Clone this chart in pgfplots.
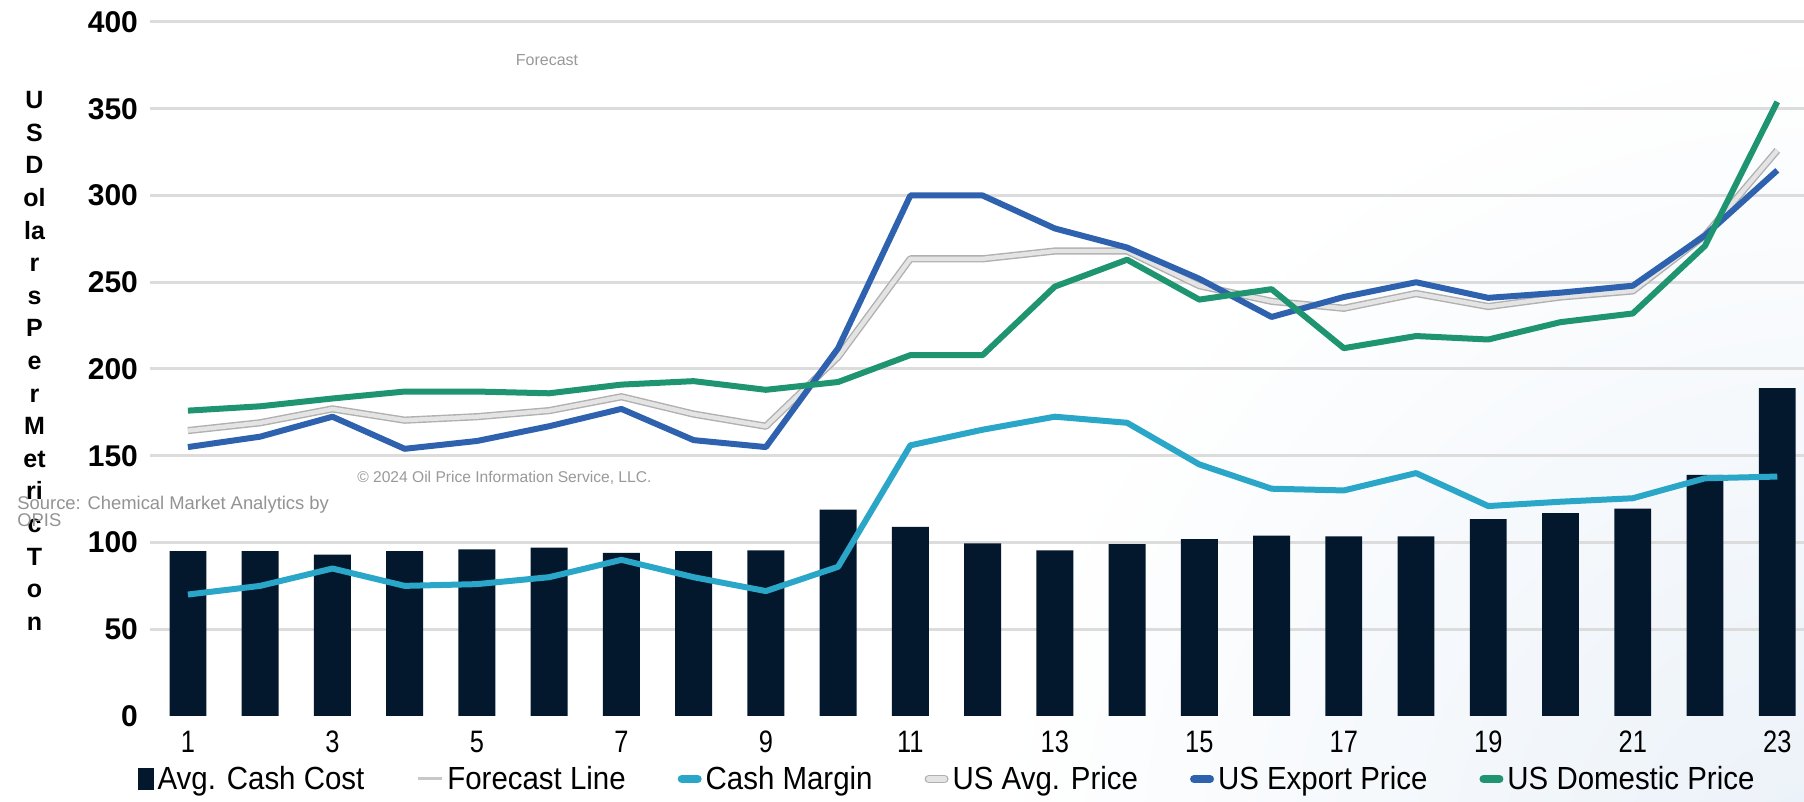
\documentclass[border=0pt]{standalone}
\usepackage{pgfplots}
\pgfplotsset{compat=1.18}
\usepackage{fontspec}
\setmainfont{Liberation Sans}
\setsansfont{Liberation Sans}
\newfontfamily\legfont[FakeStretch=0.92]{Liberation Sans}
\newfontfamily\tickfont[FakeStretch=0.82]{Liberation Sans}
\definecolor{cost}{HTML}{04182D}
\definecolor{margin}{HTML}{2AA6C8}
\definecolor{export}{HTML}{2F62AE}
\definecolor{domestic}{HTML}{1F9470}
\definecolor{avgp}{HTML}{B0B0B0}
\definecolor{avgin}{HTML}{E4E4E4}
\definecolor{gridc}{HTML}{DCDCDC}
\definecolor{bgblue}{HTML}{EAF1F8}
\begin{document}
\begin{tikzpicture}
\useasboundingbox (-75pt,-43pt) rectangle (827pt,358pt);
\begin{scope}
\clip (-75pt,-43pt) rectangle (827pt,358pt);
\fill[white] (-75pt,-43pt) rectangle (827pt,358pt);
\shade[inner color=bgblue, outer color=white] (840pt,-80pt) circle (420pt);
\end{scope}
\begin{axis}[
 at={(0,0)}, anchor=south west,
 scale only axis, width=827pt, height=347pt,
 xmin=0.475, xmax=23.37, ymin=0, ymax=400,
 ytick={50,100,...,400}, xtick={1,3,...,23},
 extra y ticks={0}, extra y tick style={grid=none},
 ymajorgrids, grid style={gridc, line width=1.5pt},
 axis line style={draw=none}, major tick length=0pt,
 yticklabel style={font=\fontsize{15}{15}\selectfont\bfseries, xshift=-2.5pt},
 xticklabel style={font=\fontsize{15.5}{15.5}\tickfont, yshift=-4pt},
 /pgf/number format/assume math mode=true,
 clip=false,
 legend columns=6,
 legend style={at={(rel axis cs:0.4825,0)}, anchor=center, yshift=-31.5pt, draw=none, fill=none,
   font=\fontsize{16}{16}\legfont, /tikz/every even column/.append style={column sep=24pt}},
 legend cell align=left,
]
\addplot[ybar, bar width=0.51, fill=cost, draw=none,
  legend image code/.code={\fill[cost] (2pt,-5.5pt) rectangle (10pt,5.5pt);}]
 coordinates {(1,95)(2,95)(3,93)(4,95)(5,96)(6,97)(7,94)(8,95)(9,95.5)(10,119)(11,109)(12,99.5)(13,95.5)(14,99)(15,102)(16,104)(17,103.5)(18,103.5)(19,113.5)(20,117)(21,119.5)(22,139)(23,189)};
\addlegendentry{Avg. Cash Cost}
\addlegendimage{legend image code/.code={\draw[avgp!70!white, line width=1.5pt] (0pt,0pt) -- (12pt,0pt);}}
\addlegendentry{Forecast Line}
\addplot[margin, line width=3pt, line join=round,
  legend image code/.code={\draw[margin, line width=4pt, line cap=round] (2pt,0pt) -- (10pt,0pt);}]
 coordinates {(1,70)(2,75)(3,85)(4,75)(5,76)(6,80)(7,90)(8,80)(9,72)(10,86)(11,156)(12,165)(13,172.5)(14,169)(15,145)(16,131)(17,130)(18,140)(19,121)(20,123.5)(21,125.5)(22,137)(23,138)};
\addlegendentry{Cash Margin}
\addplot[avgp, line width=0.7pt, double=avgin, double distance=2.2pt, line join=round,
  legend image code/.code={\draw[avgp, line width=0.7pt, double=avgin, double distance=2.6pt, line cap=round] (2pt,0pt) -- (10pt,0pt);}]
 coordinates {(1,164.5)(2,169)(3,177)(4,170.5)(5,172.5)(6,176)(7,184)(8,174)(9,167)(10,207)(11,263.5)(12,263.5)(13,268)(14,268)(15,248)(16,239)(17,235)(18,243.5)(19,236)(20,241.5)(21,245)(22,277)(23,326)};
\addlegendentry{US Avg. Price}
\addplot[export, line width=3pt, line join=round,
  legend image code/.code={\draw[export, line width=4pt, line cap=round] (2pt,0pt) -- (10pt,0pt);}]
 coordinates {(1,155)(2,161)(3,172.5)(4,154)(5,158.5)(6,167)(7,177)(8,159)(9,155)(10,212)(11,300)(12,300)(13,281)(14,270)(15,252)(16,230)(17,241.5)(18,250)(19,241)(20,244)(21,248)(22,277)(23,314.5)};
\addlegendentry{US Export Price}
\addplot[domestic, line width=3pt, line join=round,
  legend image code/.code={\draw[domestic, line width=4pt, line cap=round] (2pt,0pt) -- (10pt,0pt);}]
 coordinates {(1,176)(2,178.5)(3,183)(4,187)(5,187)(6,186)(7,191)(8,193)(9,188)(10,192.5)(11,208)(12,208)(13,247.5)(14,263)(15,240)(16,246)(17,212)(18,219)(19,217)(20,227)(21,232)(22,271)(23,354)};
\addlegendentry{US Domestic Price}
\node[font=\fontsize{12.5}{16.3}\selectfont\bfseries, align=center, anchor=center, xshift=-57.75pt] at (axis cs:0.475,204.7) {U\\S\\D\\ol\\la\\r\\s\\P\\e\\r\\M\\et\\ri\\c\\T\\o\\n};
\node[font=\fontsize{8}{8}\selectfont, text=gray!80] at (axis cs:5.97,378) {Forecast};
\node[font=\fontsize{7.8}{8}\selectfont, text=gray!80] at (axis cs:5.38,137) {\textcopyright{} 2024 Oil Price Information Service, LLC.};
\node[font=\fontsize{9.2}{8.6}\selectfont, text=gray!85, align=left, anchor=north west, inner sep=0pt, xshift=-66.5pt] at (axis cs:0.475,126.9) {Source: Chemical Market Analytics by\\OPIS};
\end{axis}
\end{tikzpicture}
\end{document}
